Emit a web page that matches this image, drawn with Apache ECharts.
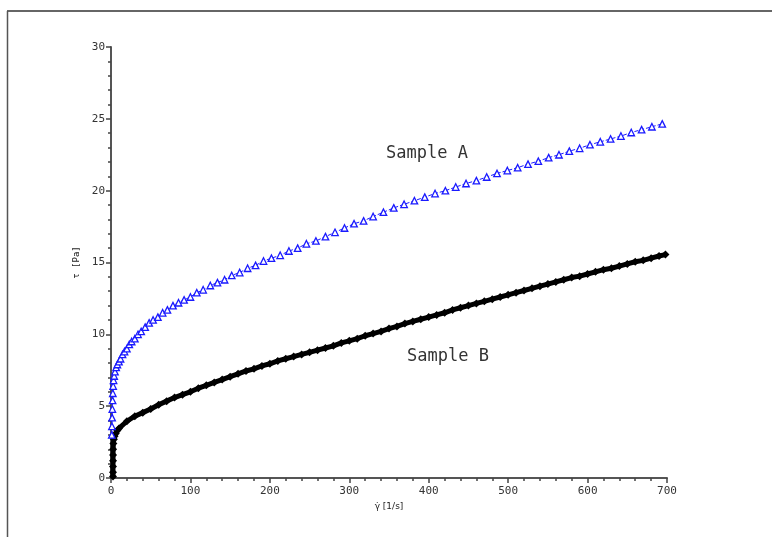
<!DOCTYPE html>
<html><head><meta charset="utf-8">
<script src="https://cdn.jsdelivr.net/npm/echarts@6/dist/echarts.min.js"></script>
<style>html,body{margin:0;padding:0;background:#fff}#c{width:772px;height:537px}</style>
</head><body><div id="c"></div>
<script>
var xTicks = [0, 100, 200, 300, 400, 500, 600, 700];
var yTicks = [0, 5, 10, 15, 20, 25, 30];
var seriesNames = ['Sample A', 'Sample B'];

var sampleA_x = [1.0,1.2,1.4,1.7,2.0,2.3,2.7,3.2,4,5,6.5,8,10,12,14.5,17,20,23,26,30,34,38,43,48,53,59,65,71,78,85,92,100,108,116,125,134,143,152,162,172,182,192,202,213,224,235,246,258,270,282,294,306,318,330,343,356,369,382,395,408,421,434,447,460,473,486,499,512,525,538,551,564,577,590,603,616,629,642,655,668,681,694];
var sampleA_y = [3.0,3.6,4.2,4.8,5.4,5.9,6.4,6.8,7.1,7.4,7.7,7.9,8.1,8.3,8.6,8.8,9.0,9.3,9.5,9.7,10.0,10.2,10.5,10.8,11.0,11.2,11.5,11.7,12.0,12.2,12.4,12.6,12.9,13.1,13.4,13.6,13.8,14.1,14.3,14.6,14.8,15.1,15.3,15.5,15.8,16.0,16.3,16.5,16.8,17.1,17.4,17.7,17.9,18.2,18.5,18.8,19.05,19.3,19.55,19.8,20.0,20.25,20.5,20.7,20.95,21.2,21.4,21.6,21.85,22.05,22.3,22.5,22.75,22.95,23.2,23.4,23.6,23.8,24.05,24.25,24.45,24.65];

var sampleB_x = [2.5,2.5,2.5,2.6,2.6,2.7,3,3.6,4.5,6,8,10,20,30,40,50,60,70,80,90,100,110,120,130,140,150,160,170,180,190,200,210,220,230,240,250,260,270,280,290,300,310,320,330,340,350,360,370,380,390,400,410,420,430,440,450,460,470,480,490,500,510,520,530,540,550,560,570,580,590,600,610,620,630,640,650,660,670,680,690,698];
var sampleB_y = [0.1,0.4,0.8,1.2,1.6,2.0,2.4,2.7,2.9,3.1,3.3,3.45,3.95,4.3,4.55,4.8,5.1,5.35,5.6,5.8,6.0,6.25,6.45,6.65,6.85,7.05,7.25,7.45,7.6,7.8,7.95,8.15,8.3,8.45,8.6,8.75,8.9,9.05,9.2,9.4,9.55,9.7,9.9,10.05,10.2,10.4,10.55,10.75,10.9,11.05,11.2,11.35,11.5,11.7,11.85,12.0,12.15,12.3,12.45,12.6,12.75,12.9,13.05,13.2,13.35,13.5,13.65,13.8,13.95,14.05,14.2,14.35,14.5,14.6,14.75,14.9,15.05,15.15,15.3,15.45,15.55];

function pairs(xs, ys){ return xs.map(function(x,i){ return [x, ys[i]]; }); }

var mono = 'DejaVu Sans Mono';
var chart = echarts.init(document.getElementById('c'), null, {renderer:'canvas'});
chart.setOption({
  animation: false,
  backgroundColor: '#ffffff',
  grid: {left: 111, right: 105, top: 47, bottom: 59, containLabel: false},
  xAxis: {
    type: 'value', min: xTicks[0], max: xTicks[xTicks.length-1], interval: 100,
    name: 'γ̇ [1/s]', nameLocation: 'middle', nameGap: 22,
    nameTextStyle: {fontFamily: 'DejaVu Sans', fontSize: 9, color: '#222'},
    axisLine: {show: true, onZero: false, lineStyle: {color: '#555', width: 2}},
    axisTick: {show: true, length: 5, lineStyle: {color: '#444', width: 1.5}},
    minorTick: {show: true, splitNumber: 5, length: 3, lineStyle: {color: '#444', width: 1.5}},
    splitLine: {show: false},
    axisLabel: {fontFamily: mono, fontSize: 11, color: '#333', margin: 8}
  },
  yAxis: {
    type: 'value', min: yTicks[0], max: yTicks[yTicks.length-1], interval: 5,
    name: 'τ [Pa]', nameLocation: 'middle', nameGap: 29, nameRotate: 90,
    nameTextStyle: {fontFamily: mono, fontSize: 9, color: '#222'},
    axisLine: {show: true, onZero: false, lineStyle: {color: '#555', width: 2}},
    axisTick: {show: true, length: 5, lineStyle: {color: '#444', width: 1.5}},
    minorTick: {show: true, splitNumber: 5, length: 3, lineStyle: {color: '#444', width: 1.5}},
    splitLine: {show: false},
    axisLabel: {fontFamily: mono, fontSize: 11, color: '#333', margin: 6}
  },
  series: [
    {
      name: seriesNames[0], type: 'line', data: pairs(sampleA_x, sampleA_y),
      symbol: 'triangle', symbolSize: 6.5, showAllSymbol: true,
      itemStyle: {color: '#ffffff', borderColor: '#1a1aff', borderWidth: 1.3},
      lineStyle: {color: '#1a1aff', width: 1, type: 'dashed'},
      z: 3
    },
    {
      name: seriesNames[1], type: 'line', data: pairs(sampleB_x, sampleB_y),
      symbol: 'diamond', symbolSize: 8, showAllSymbol: true,
      itemStyle: {color: '#000'},
      lineStyle: {color: '#000', width: 5},
      z: 2
    }
  ],
  graphic: [
    {type: 'line', shape: {x1: 7, y1: 11, x2: 772, y2: 11}, style: {stroke: '#333', lineWidth: 1.5}},
    {type: 'line', shape: {x1: 7.5, y1: 11, x2: 7.5, y2: 537}, style: {stroke: '#555', lineWidth: 1.5}},
    {type: 'text', left: 386, top: 145, style: {text: seriesNames[0], font: '17px ' + mono, fill: '#333'}},
    {type: 'text', left: 407, top: 348, style: {text: seriesNames[1], font: '17px ' + mono, fill: '#333'}}
  ]
});
</script></body></html>
